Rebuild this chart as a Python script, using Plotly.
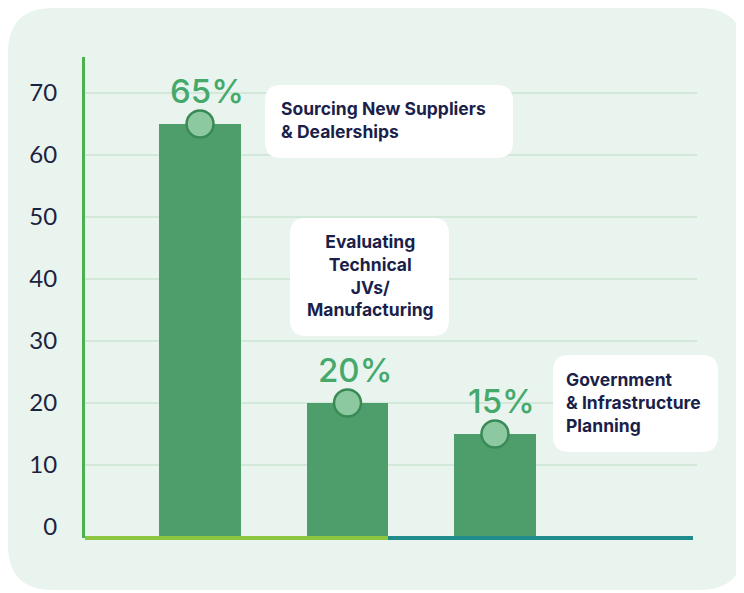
import plotly.graph_objects as go

categories = ["Sourcing New Suppliers<br>& Dealerships",
              "Evaluating<br>Technical<br>JVs/<br>Manufacturing",
              "Government<br>& Infrastructure<br>Planning"]
values = [65, 20, 15]
y_ticks = [0, 10, 20, 30, 40, 50, 60, 70]

OFF = 8  # page body margin
W_FIG, H_FIG = 744 - OFF, 593 - OFF
L, R, T, B = 85 - OFF, 697 - OFF, 57 - OFF, 538 - OFF
PW, PH = R - L, B - T
Y_MIN, Y_MAX = -1.77, 75.8
PANEL = "#eaf4ef"

def px(x):
    return (x - OFF - L) / PW

def py(y):
    return (B - (y - OFF)) / PH

def rrect(x0, y0, x1, y1, r):
    rx, ry = r / PW, r / PH
    a0, a1 = px(x0), px(x1)
    b0, b1 = py(y1), py(y0)
    return (f"M {a0+rx},{b1} L {a1-rx},{b1} Q {a1},{b1} {a1},{b1-ry} "
            f"L {a1},{b0+ry} Q {a1},{b0} {a1-rx},{b0} L {a0+rx},{b0} "
            f"Q {a0},{b0} {a0},{b0+ry} L {a0},{b1-ry} Q {a0},{b1} {a0+rx},{b1} Z")

xs = list(range(len(values)))
fig = go.Figure()
fig.add_trace(go.Bar(
    x=xs, y=[v - Y_MIN for v in values], base=Y_MIN, width=0.55,
    marker=dict(color="#4e9e6b", line=dict(width=0)), hoverinfo="skip"))
fig.add_trace(go.Scatter(
    x=xs, y=values, mode="markers",
    marker=dict(size=27, color="#8cc8a0", line=dict(color="#3a8a55", width=2.5)),
    hoverinfo="skip"))

shapes = [
    dict(type="path", xref="paper", yref="paper", layer="below",
         path=rrect(8, 8, 744, 590, 45), fillcolor=PANEL, line=dict(width=0)),
    dict(type="line", xref="paper", yref="paper", x0=0, x1=px(390), y0=0, y1=0,
         line=dict(color="#8cc63f", width=4), layer="above"),
    dict(type="line", xref="paper", yref="paper", x0=px(388), x1=px(693), y0=0, y1=0,
         line=dict(color="#1f8b8b", width=4), layer="above"),
]

boxes = [
    ((265, 85, 513, 158), (279, 120), "left"),
    ((290, 218, 449, 336), (370, 275), "center"),
    ((553, 355, 718, 452), (564, 402), "left"),
]
annotations = []
for (bx, (tx, ty), al), txt in zip(boxes, categories):
    shapes.append(dict(type="path", xref="paper", yref="paper", layer="above",
                       path=rrect(*bx, 16), fillcolor="#ffffff", line=dict(width=0)))
    annotations.append(dict(
        x=px(tx), y=py(ty), xref="paper", yref="paper",
        xanchor="left" if al == "left" else "center", yanchor="middle",
        text=txt, align=al, showarrow=False,
        font=dict(family="Inter", size=17.5, weight=700, color="#1b1f4a")))

for i, v in enumerate(values):
    annotations.append(dict(
        x=i, y=v, xref="x", yref="y", text=f"{v}%", showarrow=False,
        xshift=7, yshift=33, yanchor="middle",
        font=dict(family="Inter", size=33, weight=500, color="#46a96c")))

fig.update_layout(
    width=W_FIG, height=H_FIG,
    margin=dict(l=L, r=W_FIG - R, t=T, b=H_FIG - B),
    paper_bgcolor="#ffffff", plot_bgcolor="rgba(0,0,0,0)",
    showlegend=False, bargap=0,
    shapes=shapes, annotations=annotations,
    xaxis=dict(range=[-0.78, 3.37], showticklabels=False, showgrid=False,
               zeroline=False, showline=False),
    yaxis=dict(range=[Y_MIN, Y_MAX], tickvals=y_ticks,
               ticktext=[str(t) for t in y_ticks],
               showgrid=True, gridcolor="#d2e9da", gridwidth=1.5,
               zeroline=True, zerolinecolor=PANEL, zerolinewidth=3,
               showline=True, linecolor="#4caf50", linewidth=3,
               ticks="", ticklabelstandoff=20,
               tickfont=dict(family="Lato", size=24, color="#1c2340")),
)
fig.write_html("out.html")
